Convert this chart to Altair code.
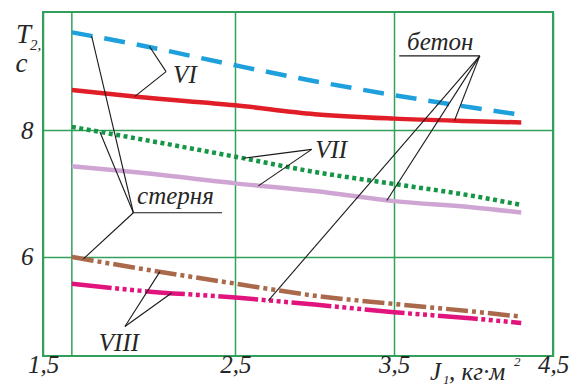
import altair as alt
import pandas as pd

# ---- data ----
J = [1.65, 2.0, 2.5, 3.0, 3.5, 4.0, 4.3]
stubble_VI = [9.54, 9.34, 9.02, 8.77, 8.55, 8.35, 8.24]
concrete_VI = [8.63, 8.52, 8.39, 8.25, 8.18, 8.14, 8.12]
stubble_VII = [8.05, 7.86, 7.58, 7.34, 7.15, 6.96, 6.82]
concrete_VII = [7.43, 7.33, 7.16, 7.04, 6.88, 6.78, 6.70]
stubble_VIII = [6.00, 5.82, 5.58, 5.39, 5.26, 5.14, 5.06]
concrete_VIII = [5.58, 5.47, 5.36, 5.25, 5.13, 5.03, 4.96]

x_ticks = [1.5, 2.5, 3.5, 4.5]
y_ticks = [6, 8]

# labels (text, J, T)
label_text = ["VI", "VII", "VIII", "бетон", "стерня"]
label_J = [2.238, 3.103, 1.895, 3.79, 2.189]
label_T = [8.742, 7.558, 4.525, 9.264, 6.831]

# leader segments (J1, T1, J2, T2)
lead_J1 = [2.140, 2.140, 2.981, 2.981, 1.926, 1.926, 1.970, 1.970, 1.970, 1.970, 4.039, 4.039, 4.039, 4.039]
lead_T1 = [8.921, 8.921, 7.695, 7.695, 4.904, 4.904, 6.697, 6.697, 6.697, 6.697, 9.169, 9.169, 9.169, 9.169]
lead_J2 = [2.053, 1.978, 2.550, 2.645, 2.108, 2.169, 1.753, 1.796, 1.710, 2.431, 3.880, 3.454, 2.708, 3.532]
lead_T2 = [9.320, 8.530, 7.556, 7.120, 5.770, 5.433, 9.480, 7.970, 5.970, 6.697, 8.150, 6.890, 5.314, 9.169]

GREEN = "#32a05a"
FONT = "Liberation Serif"
TXT = "#262626"

series = [
    ("стерня VI", stubble_VI, "#1ea0dc", [21, 12]),
    ("бетон VI", concrete_VI, "#e11e28", [1, 0]),
    ("стерня VII", stubble_VII, "#149646", [4, 3.5]),
    ("бетон VII", concrete_VII, "#cfa6d3", [1, 0]),
    ("стерня VIII", stubble_VIII, "#aa694b", [22, 4, 4, 4, 4, 4]),
    ("бетон VIII", concrete_VIII, "#e1147d", [40, 3.5, 4, 3.5, 4, 3.5, 4, 3.5, 4, 3.5]),
]

xs = alt.Scale(domain=[1.5, 2.5, 4.5], range=[0, 192.3, 510], nice=False, zero=False)
ys = alt.Scale(domain=[4.44, 9.86], nice=False, zero=False)

x_axis = alt.Axis(
    values=x_ticks, labelExpr="replace(format(datum.value, '.1f'), '.', ',')",
    grid=True, gridColor=GREEN, gridWidth=1.5, gridOpacity=1,
    domain=False, ticks=False, tickSize=0, title=None,
    labelFont=FONT, labelFontStyle="italic", labelFontSize=25, labelColor=TXT,
    labelPadding=-4, labelFlush=False, labelOverlap=False,
)
y_axis = alt.Axis(
    values=y_ticks, labelExpr="format(datum.value, 'd')",
    grid=True, gridColor=GREEN, gridWidth=1.5, gridOpacity=1,
    domain=False, ticks=False, tickSize=0, title=None,
    labelFont=FONT, labelFontStyle="italic", labelFontSize=25, labelColor=TXT,
    labelPadding=10, labelOverlap=False,
)

layers = []

# extra vertical grid line at the start of the data
start_rule = alt.Chart(pd.DataFrame({"J": [J[0]]})).mark_rule(color=GREEN, strokeWidth=1.5).encode(
    x=alt.X("J:Q", scale=xs, axis=x_axis)
)
layers.append(start_rule)

for name, vals, color, dash in series:
    df = pd.DataFrame({"J": J, "T": vals})
    mk = dict(color=color, strokeWidth=4.5, interpolate="monotone", strokeCap="butt")
    if dash != [1, 0]:
        mk["strokeDash"] = dash
    layers.append(
        alt.Chart(df).mark_line(**mk).encode(
            x=alt.X("J:Q", scale=xs, axis=x_axis),
            y=alt.Y("T:Q", scale=ys, axis=y_axis),
        )
    )

lead_df = pd.DataFrame({"J1": lead_J1, "T1": lead_T1, "J2": lead_J2, "T2": lead_T2})
leaders = alt.Chart(lead_df).mark_rule(color="#1a1a1a", strokeWidth=1.1).encode(
    x=alt.X("J1:Q", scale=xs), y=alt.Y("T1:Q", scale=ys), x2="J2:Q", y2="T2:Q"
)
layers.append(leaders)

lab_df = pd.DataFrame({"text": label_text, "J": label_J, "T": label_T})
labels = alt.Chart(lab_df).mark_text(
    font=FONT, fontStyle="italic", fontSize=25, color=TXT, align="center", baseline="alphabetic"
).encode(x=alt.X("J:Q", scale=xs), y=alt.Y("T:Q", scale=ys), text="text:N")
layers.append(labels)


def txt(s, x, y, size, align="left"):
    return alt.Chart(pd.DataFrame({"t": [s]})).mark_text(
        font=FONT, fontStyle="italic", fontSize=size, color=TXT, align=align, baseline="alphabetic"
    ).encode(text="t:N", x=alt.value(x), y=alt.value(y))


# axis titles
layers += [
    txt("T", -19.5, 31, 27, "center"),
    txt("2,", -13, 38, 15),
    txt("с", -21.5, 60, 27, "center"),
    txt("J", 387, 368, 25),
    txt("1", 400, 372, 13),
    txt(", кг·м", 406, 368, 25),
    txt("2", 471, 354, 13),
]

chart = alt.layer(*layers).properties(
    width=510, height=344,
    padding={"left": 35, "top": 4, "right": 20, "bottom": 33},
    autosize=alt.AutoSizeParams(type="none"),
    background="white",
).configure_view(stroke=GREEN, strokeWidth=2)

chart.save("out.html", embed_options={"renderer": "svg", "actions": False})
